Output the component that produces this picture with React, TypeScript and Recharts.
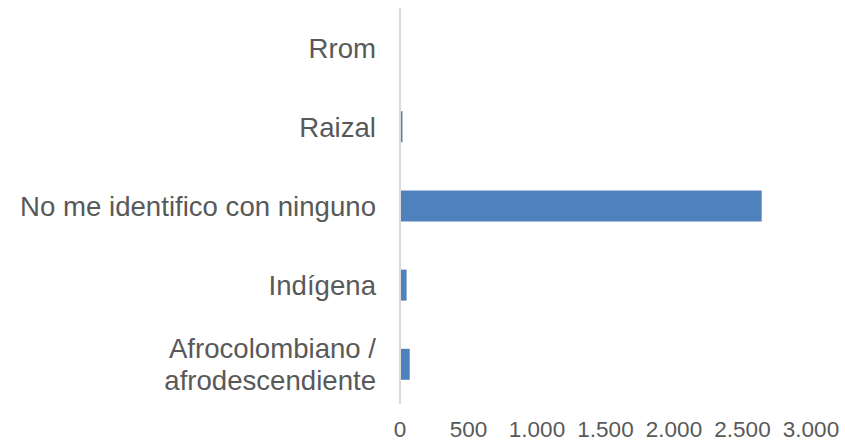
import React from 'react';
import { BarChart, Bar, XAxis, YAxis } from 'recharts';

const categories = ['Rrom', 'Raizal', 'No me identifico con ninguno', 'Indígena', 'Afrocolombiano / afrodescendiente'];
const values = [4, 18, 2640, 48, 71];
const xTicks = [0, 500, 1000, 1500, 2000, 2500, 3000];

const data = categories.map((c, i) => ({ name: c, value: values[i] }));

const FONT = '"Liberation Sans", Arial, sans-serif';
const TEXT = '#595959';

const fmt = (v: number) => v.toString().replace(/\B(?=(\d{3})+(?!\d))/g, '.');

const CatTick = (props: any) => {
  const { x, y, payload } = props;
  const label: string = payload.value;
  const parts = label.includes(' / ') ? [label.split(' / ')[0] + ' /', label.split(' / ')[1]] : [label];
  const lh = 32;
  const start = -((parts.length - 1) * lh) / 2;
  return (
    <text x={x} y={y} textAnchor="end" fill={TEXT} fontSize={27.6} fontFamily={FONT}>
      {parts.map((p, i) => (
        <tspan key={i} x={x} dy={i === 0 ? start + 10 : lh}>{p}</tspan>
      ))}
    </text>
  );
};

const ValTick = (props: any) => {
  const { x, y, payload } = props;
  return (
    <text x={x} y={y} dy={11.5} textAnchor="middle" fill={TEXT} fontSize={22.5} fontFamily={FONT}>
      {fmt(payload.value)}
    </text>
  );
};

export default function App() {
  return (
    <div style={{ position: 'absolute', left: 0, top: 0, width: 845, height: 442, background: '#fff' }}>
      <BarChart
        width={845}
        height={442}
        data={data}
        layout="vertical"
        margin={{ top: 8, right: 34, bottom: 0, left: 0 }}
      >
        <XAxis
          type="number"
          domain={[0, 3000]}
          ticks={xTicks}
          interval={0}
          axisLine={false}
          tickLine={false}
          tickSize={0}
          tickMargin={21}
          height={38}
          tick={<ValTick />}
        />
        <YAxis
          type="category"
          dataKey="name"
          width={400}
          axisLine={{ stroke: '#d9d9d9', strokeWidth: 2 }}
          tickLine={false}
          tickSize={0}
          tickMargin={24}
          interval={0}
          tick={<CatTick />}
        />
        <Bar dataKey="value" fill="#4f81bd" barSize={31} isAnimationActive={false} />
      </BarChart>
    </div>
  );
}
